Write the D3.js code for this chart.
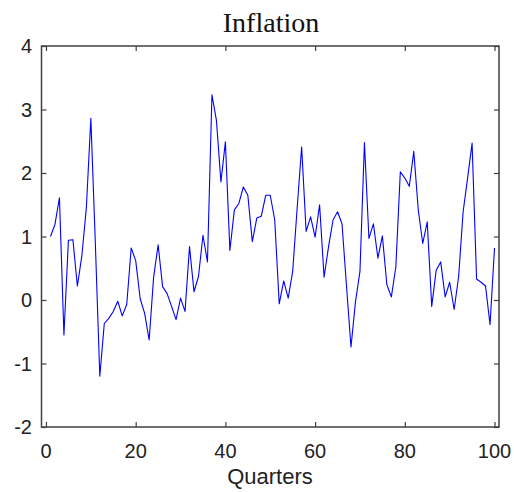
<!DOCTYPE html>
<html>
<head>
<meta charset="utf-8">
<script src="https://cdn.jsdelivr.net/npm/d3@7"></script>
<style>
  body { margin: 0; background: #fff; }
  svg { display: block; }
</style>
</head>
<body>
<svg id="chart" width="514" height="492"></svg>
<script>
// quarters 1..100
var quarters = d3.range(1, 101);
var inflation = [
   1.00,  1.19,  1.61, -0.55,  0.94,  0.95,  0.22,  0.70,  1.45,  2.86,
   0.90, -1.20, -0.37, -0.29, -0.18, -0.02, -0.25, -0.07,  0.82,  0.62,
   0.02, -0.21, -0.63,  0.36,  0.87,  0.21,  0.10, -0.10, -0.31,  0.03,
  -0.18,  0.84,  0.13,  0.37,  1.02,  0.60,  3.23,  2.83,  1.86,  2.49,
   0.78,  1.42,  1.52,  1.78,  1.65,  0.92,  1.29,  1.32,  1.65,  1.65,
   1.26, -0.06,  0.30,  0.03,  0.45,  1.45,  2.41,  1.08,  1.31,  0.99,
   1.50,  0.36,  0.84,  1.26,  1.39,  1.20,  0.22, -0.74, -0.03,  0.45,
   2.48,  0.97,  1.20,  0.66,  1.01,  0.24,  0.05,  0.52,  2.02,  1.92,
   1.79,  2.34,  1.42,  0.89,  1.23, -0.10,  0.47,  0.60,  0.05,  0.28,
  -0.15,  0.37,  1.39,  1.92,  2.47,  0.33,  0.28,  0.22, -0.39,  0.82
];
var xTicks = [0, 20, 40, 60, 80, 100];
var yTicks = [-2, -1, 0, 1, 2, 3, 4];

var svg = d3.select('#chart');
// plot box (window.top is reserved, so use a prefix)
var boxLeft = 41.5, boxRight = 499, boxTop = 46, boxBottom = 427;

var x = d3.scaleLinear().domain([-1, 101]).range([boxLeft, boxRight]);
var y = d3.scaleLinear().domain([-2, 4]).range([boxBottom, boxTop]);

var axisColor = '#404040';

// data line
var line = d3.line()
    .x(function(d, i) { return x(quarters[i]); })
    .y(function(d) { return y(d); });

svg.append('path')
    .datum(inflation)
    .attr('d', line)
    .attr('fill', 'none')
    .attr('stroke', '#0000ff')
    .attr('stroke-width', 1.1)
    .attr('stroke-linejoin', 'round');

// box and inward ticks on all sides
function styleAxis(g) {
    g.select('.domain').remove();
    g.selectAll('.tick line').attr('stroke', axisColor).attr('stroke-width', 1.2);
    g.selectAll('text').remove();
}
svg.append('g').attr('transform', 'translate(0,' + boxBottom + ')')
    .call(d3.axisBottom(x).tickValues(xTicks).tickSizeInner(-5).tickSizeOuter(0)).call(styleAxis);
svg.append('g').attr('transform', 'translate(0,' + boxTop + ')')
    .call(d3.axisTop(x).tickValues(xTicks).tickSizeInner(-5).tickSizeOuter(0)).call(styleAxis);
svg.append('g').attr('transform', 'translate(' + boxLeft + ',0)')
    .call(d3.axisLeft(y).tickValues(yTicks).tickSizeInner(-5).tickSizeOuter(0)).call(styleAxis);
svg.append('g').attr('transform', 'translate(' + boxRight + ',0)')
    .call(d3.axisRight(y).tickValues(yTicks).tickSizeInner(-5).tickSizeOuter(0)).call(styleAxis);

svg.append('rect')
    .attr('x', boxLeft).attr('y', boxTop)
    .attr('width', boxRight - boxLeft).attr('height', boxBottom - boxTop)
    .attr('fill', 'none')
    .attr('stroke', axisColor)
    .attr('stroke-width', 1.5);

// tick labels
var font = 'Liberation Sans, Arial, sans-serif';
svg.append('g').selectAll('text')
    .data(xTicks).enter().append('text')
    .attr('x', function(d) { return x(d); })
    .attr('y', 458)
    .attr('text-anchor', 'middle')
    .attr('font-family', font)
    .attr('font-size', 20)
    .attr('fill', '#222')
    .text(function(d) { return d; });

svg.append('g').selectAll('text')
    .data(yTicks).enter().append('text')
    .attr('x', 32)
    .attr('y', function(d) { return y(d) + 7; })
    .attr('text-anchor', 'end')
    .attr('font-family', font)
    .attr('font-size', 20)
    .attr('fill', '#222')
    .text(function(d) { return d; });

svg.append('text')
    .attr('x', 270)
    .attr('y', 484)
    .attr('text-anchor', 'middle')
    .attr('font-family', font)
    .attr('font-size', 22)
    .attr('fill', '#222')
    .text('Quarters');

svg.append('text')
    .attr('x', 271)
    .attr('y', 32)
    .attr('text-anchor', 'middle')
    .attr('font-family', 'Liberation Serif, DejaVu Serif, serif')
    .attr('font-size', 28)
    .attr('fill', '#111')
    .text('Inflation');
</script>
</body>
</html>
